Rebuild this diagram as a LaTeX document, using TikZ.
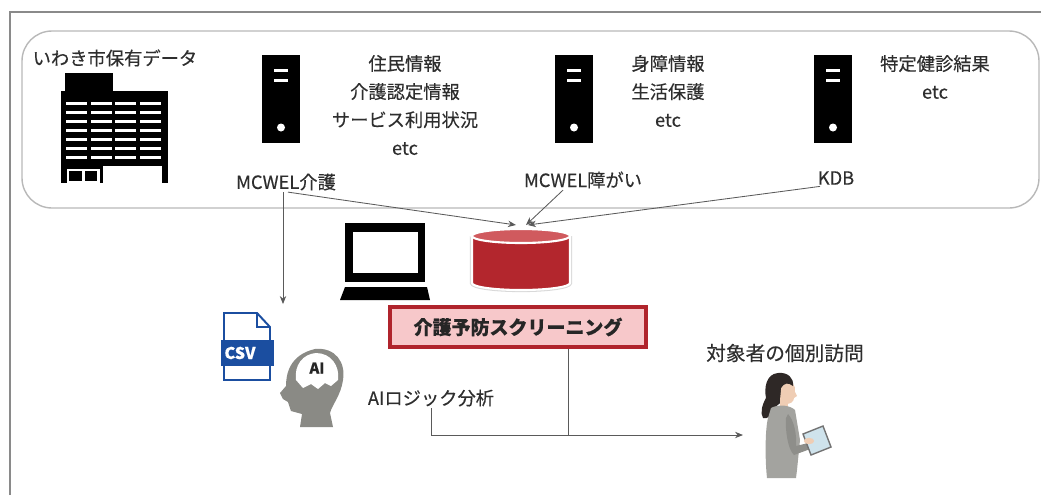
\documentclass[tikz,border=0pt]{standalone}
\usepackage{fontspec}
\setmainfont{Noto Sans CJK JP}[FakeBold=0.35]
\usetikzlibrary{arrows.meta}

\definecolor{textgray}{HTML}{2E2E2E}
\definecolor{linegray}{HTML}{5A5A5A}
\definecolor{framegray}{HTML}{8A8A8A}
\definecolor{roundgray}{HTML}{B8B8B8}
\definecolor{dbred}{HTML}{B3262D}
\definecolor{dbtop}{HTML}{D05A5E}
\definecolor{boxred}{HTML}{B0242C}
\definecolor{boxpink}{HTML}{F7C8CA}
\definecolor{csvblue}{HTML}{1B4EA0}
\definecolor{headgray}{HTML}{8A8A85}
\definecolor{hair}{HTML}{2E2826}
\definecolor{skin}{HTML}{EFCDB4}
\definecolor{suit}{HTML}{A3A39F}
\definecolor{suitdark}{HTML}{8E8E8A}
\definecolor{tabscreen}{HTML}{CFE3EC}

\begin{document}
\begin{tikzpicture}[
    x=0.025cm, y=-0.025cm,
    txt/.style={text=textgray, font=\fontsize{13}{20}\selectfont, align=center, inner sep=1pt},
    visittxt/.style={text=textgray, font=\fontsize{14}{18}\selectfont, inner sep=1pt},
    screenbox/.style={rectangle, draw=boxred, fill=boxpink, line width=2.4pt, minimum width=6.4cm, minimum height=1cm, font=\fontsize{13.5}{16}\selectfont\bfseries, text=black!85},
    arrow/.style={-{Stealth[length=2mm, width=1.6mm]}, draw=linegray, line width=0.6pt},
    line/.style={draw=linegray, line width=0.6pt},
    server/.pic={
        \fill[black] (-19,-44) rectangle (19,44);
        \fill[white] (-7,-30) rectangle (7,-27);
        \fill[white] (-7,-20) rectangle (7,-17);
        \fill[white] (0,29) circle[radius=0.1cm];
    }
]
\useasboundingbox (0,0) rectangle (1041,495);

% Frames
\draw[framegray, line width=1.2pt] (10,495) -- (10,12) -- (1041,12);
\draw[roundgray, line width=1pt, rounded corners=0.75cm] (22,31) rectangle (1039,208);

% City data
\node[txt, anchor=west] (city) at (31,58) {いわき市保有データ};
\begin{scope}[black]
    \fill (65,73) rectangle (113,92);
    \fill (61,91) rectangle (168,166);
    \foreach \row in {0,...,6}
        \foreach \col in {0,...,3}
            \fill[white] ({66+\col*24.5},{101.5+\row*9}) rectangle ++(21,3.5);
    \fill (61,166) rectangle (103,183);
    \fill[white] (67,169) rectangle (100,183);
    \fill (69,171) rectangle (82,181);
    \fill (85,171) rectangle (97,181);
    \fill (162,166) rectangle (168,183);
\end{scope}

% Servers
\pic at (281,98.5) {server};
\pic at (574,98.5) {server};
\pic at (833,98.5) {server};

\node[txt] (infoKaigo) at (405,105) {住民情報\\介護認定情報\\サービス利用状況\\etc};
\node[txt] (infoShogai) at (668,91) {身障情報\\生活保護\\etc};
\node[txt] (infoKdb) at (935,77) {特定健診結果\\etc};

\node[txt] (kaigo) at (286,182) {MCWEL介護};
\node[txt] (shogai) at (583,180) {MCWEL障がい};
\node[txt] (kdb) at (836,178) {KDB};

% Laptop
\fill[black] (345,223) rectangle (425,282);
\fill[white] (353,232) rectangle (418,273);
\fill[black] (345,287) -- (427,287) -- (430,300) -- (340,300) -- cycle;

% Database
\coordinate (dbin) at (522,225);
\draw[black!15, line width=3pt] (472,236) -- (472,283) arc[start angle=180, end angle=360, x radius=1.225cm, y radius=0.175cm] -- (570,236);
\filldraw[draw=white, line width=1.5pt, fill=dbred] (472,236) -- (472,283) arc[start angle=180, end angle=360, x radius=1.225cm, y radius=0.175cm] -- (570,236) arc[start angle=0, end angle=180, x radius=1.225cm, y radius=0.175cm] -- cycle;
\filldraw[draw=white, line width=1.5pt, fill=dbtop] (521,236) ellipse [x radius=1.225cm, y radius=0.175cm];

% Screening
\node[screenbox] (screening) at (518,327) {介護予防スクリーニング};

% CSV file
\filldraw[draw=csvblue, fill=white, line width=1.4pt] (224,313) -- (257,313) -- (270,327) -- (270,380) -- (224,380) -- cycle;
\draw[csvblue, line width=1.4pt] (257,313) -- (257,327) -- (270,327);
\fill[csvblue] (221,340) rectangle (274,366);
\node[text=white, font=\fontsize{11.5}{12}\selectfont\bfseries, inner sep=0pt] (csv) at (240,353) {CSV};

% AI head
\fill[headgray] (300,427) -- (302,414) -- (291,411) -- (288,402) -- (283,399) -- (280,393) -- (286,386)
    .. controls (286,375) and (289,355) .. (315,349)
    .. controls (335,347) and (346,362) .. (343,380)
    .. controls (341,395) and (332,405) .. (330,413) -- (333,427) -- cycle;
\fill[white] (296,380) .. controls (294,365) and (303,354) .. (316,353)
    .. controls (331,353) and (340,366) .. (338,380)
    -- (331,386) -- (325,383) -- (318,389) -- (311,384) -- (303,388) -- cycle;
\node[text=black!85, font=\fontsize{10.5}{11}\selectfont\bfseries, inner sep=0pt] (ai) at (317,368) {AI};
\node[txt] (logic) at (431,398) {AIロジック分析};

% Visit
\node[visittxt] (visitlbl) at (785,353) {対象者の個別訪問};
\coordinate (visit) at (743,435);
\begin{scope}
    \fill[hair] (778,373) .. controls (766,374) and (764,388) .. (766,398)
        .. controls (762,405) and (760,413) .. (763,418)
        .. controls (768,420) and (772,414) .. (774,408) -- (784,400) -- (784,378) -- cycle;
    \fill[skin] (780,400) rectangle (788,410);
    \fill[skin] (782,380) .. controls (792,378) and (796,386) .. (795,392) -- (797,396) -- (794,398)
        .. controls (794,402) and (790,404) .. (786,404) -- (780,400) -- cycle;
    \fill[hair] (778,373) .. controls (788,372) and (794,378) .. (793,386)
        .. controls (788,382) and (784,383) .. (781,388) -- (778,395) -- cycle;
    \fill[suit] (771,408) .. controls (778,404) and (790,405) .. (795,410) -- (800,440) -- (797,470)
        -- (796,478) -- (767,478) .. controls (765,460) and (765,430) .. (768,418) -- cycle;
    \fill[suitdark] (788,414) .. controls (794,420) and (797,435) .. (796,446) -- (812,442) -- (813,448)
        -- (794,455) .. controls (788,450) and (785,430) .. (786,418) -- cycle;
    \filldraw[draw=black!55, fill=tabscreen, line width=1pt] (803,434) -- (823,426) -- (831,447) -- (811,455) -- cycle;
    \fill[skin] (809,441) ellipse [x radius=0.13cm, y radius=0.08cm];
\end{scope}

% Connectors
\draw[arrow] ([xshift=0.05cm]kaigo.south) -- ([xshift=-0.15cm]dbin);
\draw[arrow] ([xshift=-0.5cm]shogai.south) -- ([xshift=0.1cm]dbin);
\draw[arrow] ([xshift=-0.4cm]kdb.south) -- ([xshift=0.15cm]dbin);
\coordinate (csvtop) at (283,304);
\draw[arrow] (kaigo.south -| csvtop) -- (csvtop);
\draw[arrow] (logic.south) |- (visit);
\draw[line] ([xshift=1.25cm]screening.south) -- ([xshift=1.25cm]screening.south |- visit);

\end{tikzpicture}
\end{document}
